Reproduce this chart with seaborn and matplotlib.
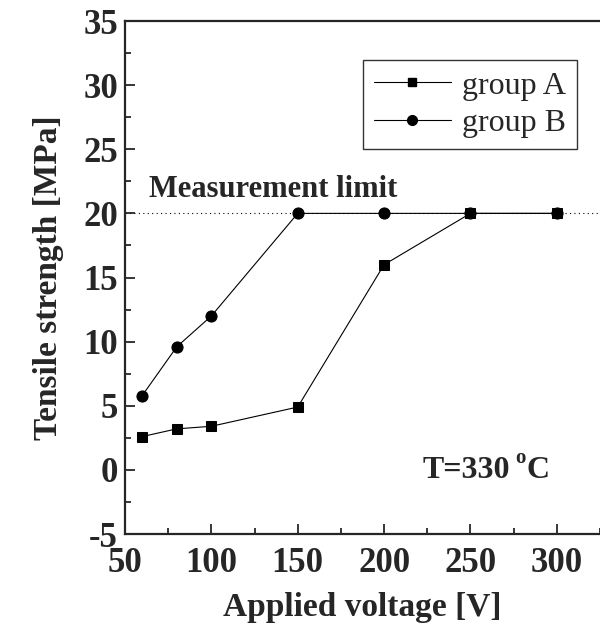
import pandas as pd
import seaborn as sns
import matplotlib.pyplot as plt
from matplotlib.ticker import MultipleLocator
from matplotlib.lines import Line2D

voltage = [60, 80, 100, 150, 200, 250, 300]
strength_a = [2.6, 3.2, 3.4, 4.9, 16.0, 20.0, 20.0]
strength_b = [5.8, 9.6, 12.0, 20.0, 20.0, 20.0, 20.0]
limit = 20

df = pd.DataFrame({
    'voltage': voltage * 2,
    'strength': strength_a + strength_b,
    'group': ['group A'] * len(voltage) + ['group B'] * len(voltage),
})

sns.set_style('ticks')
plt.rcParams['font.family'] = ['Liberation Serif', 'DejaVu Serif']
plt.rcParams['axes.unicode_minus'] = False

fig = plt.figure(figsize=(6, 6.29), dpi=100)
ax = fig.add_axes([0.2083, 0.151, 0.7917, 0.8156])

# B first so the squares sit on top where they overlap
for grp, mk, ms in [('group B', 'o', 8), ('group A', 's', 7)]:
    sub = df[df['group'] == grp]
    sns.lineplot(data=sub, x='voltage', y='strength', ax=ax, color='black',
                 marker=mk, markersize=ms, markeredgecolor='black',
                 linewidth=0.8, legend=False)

ax.axhline(limit, color='black', linestyle=(0, (1, 3)), linewidth=0.8, zorder=0)

ax.set_xlim(50, 325)
ax.set_ylim(-5, 35)
ax.xaxis.set_major_locator(MultipleLocator(50))
ax.xaxis.set_minor_locator(MultipleLocator(25))
ax.yaxis.set_major_locator(MultipleLocator(5))
ax.yaxis.set_minor_locator(MultipleLocator(2.5))
ax.tick_params(which='both', direction='in', width=1.3, top=False, right=False)
ax.tick_params(which='major', length=7)
ax.tick_params(which='minor', length=4)
ax.tick_params(axis='y', pad=5)
ax.tick_params(axis='x', pad=9)
for lab in ax.get_xticklabels() + ax.get_yticklabels():
    lab.set_fontsize(25)
    lab.set_fontweight('bold')

for s in ['left', 'bottom', 'top']:
    ax.spines[s].set_linewidth(1.6)
ax.spines['right'].set_visible(False)

ax.set_xlabel('Applied voltage [V]', fontsize=24, fontweight='bold', labelpad=9)
ax.set_ylabel('Tensile strength [MPa]', fontsize=24, fontweight='bold', labelpad=14)

ax.text(64, 21.3, 'Measurement limit', fontsize=22, fontweight='bold')
t1 = ax.text(222, -0.6, 'T=330', fontsize=23, fontweight='bold')
ax.annotate('o', xy=(1, 0), xycoords=t1, xytext=(4, 12), va='bottom',
            textcoords='offset points', fontsize=15, fontweight='bold')
ax.annotate('C', xy=(1, 0), xycoords=t1, xytext=(12.5, 0), va='bottom',
            textcoords='offset points', fontsize=23, fontweight='bold')

handles = [
    Line2D([], [], color='black', marker='s', markersize=6, linewidth=0.8),
    Line2D([], [], color='black', marker='o', markersize=7, linewidth=0.8),
]
leg = ax.legend(handles, ['group A', 'group B'], loc='upper right',
                bbox_to_anchor=(0.985, 0.955), fontsize=23, frameon=True,
                fancybox=False, edgecolor='black', handlelength=2.4,
                borderpad=0.35, labelspacing=0.25, handletextpad=0.35)
leg.get_frame().set_linewidth(1.0)

fig.savefig('out.png', dpi=100)
